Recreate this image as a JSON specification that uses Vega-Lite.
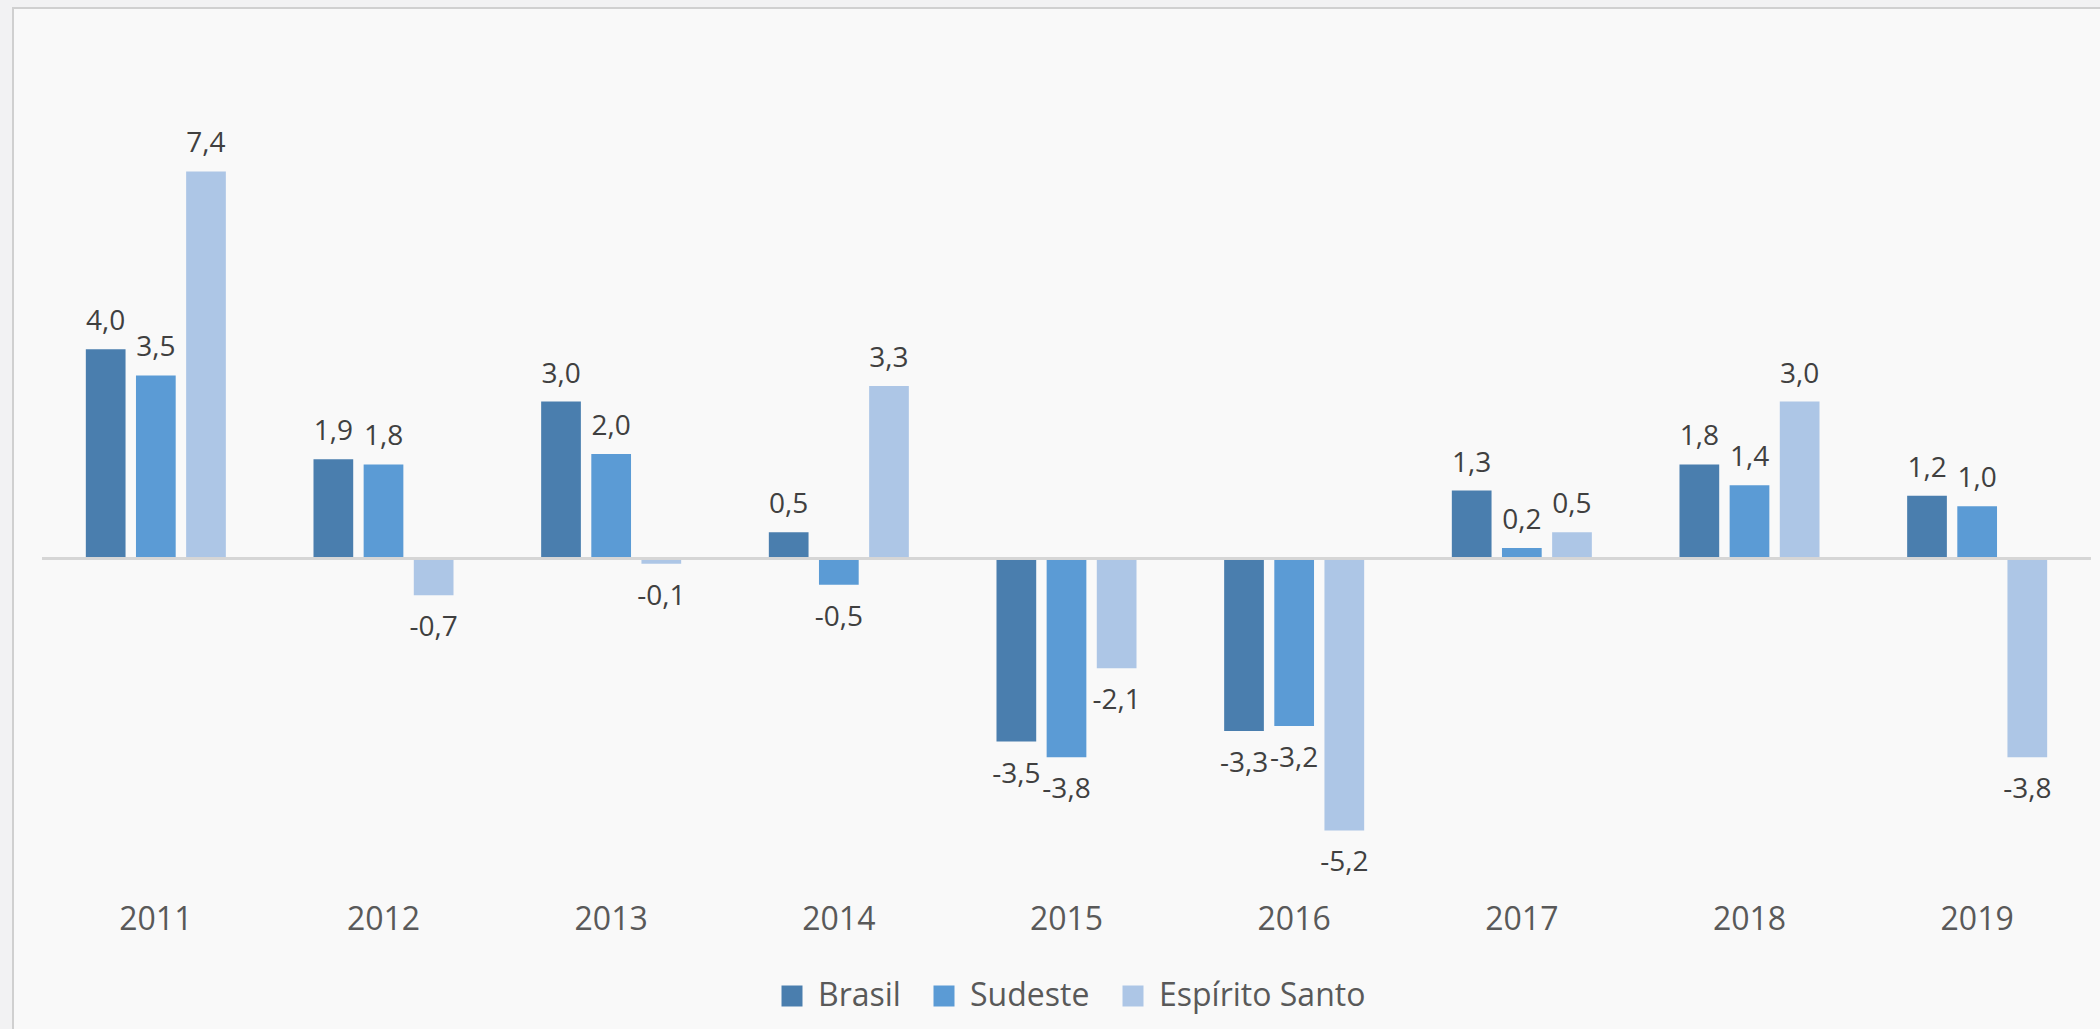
{
  "$schema": "https://vega.github.io/schema/vega-lite/v6.json",
  "autosize": "none",
  "width": 2100,
  "height": 1040,
  "padding": {"left": 13, "top": 8, "right": 0, "bottom": 0},
  "background": "#f2f2f3",
  "config": {
    "view": {"fill": "#f9f9f9", "stroke": "#d0d0d0", "strokeWidth": 2},
    "font": "Open Sans",
    "locale": {"number": {"decimal": ",", "thousands": ".", "grouping": [3], "currency": ["R$", ""], "minus": "-"}}
  },
  "data": {
    "values": [
      {"ano": "2011", "serie": "Brasil", "valor": 4.0},
      {"ano": "2011", "serie": "Sudeste", "valor": 3.5},
      {"ano": "2011", "serie": "Espírito Santo", "valor": 7.4},
      {"ano": "2012", "serie": "Brasil", "valor": 1.9},
      {"ano": "2012", "serie": "Sudeste", "valor": 1.8},
      {"ano": "2012", "serie": "Espírito Santo", "valor": -0.7},
      {"ano": "2013", "serie": "Brasil", "valor": 3.0},
      {"ano": "2013", "serie": "Sudeste", "valor": 2.0},
      {"ano": "2013", "serie": "Espírito Santo", "valor": -0.1},
      {"ano": "2014", "serie": "Brasil", "valor": 0.5},
      {"ano": "2014", "serie": "Sudeste", "valor": -0.5},
      {"ano": "2014", "serie": "Espírito Santo", "valor": 3.3},
      {"ano": "2015", "serie": "Brasil", "valor": -3.5},
      {"ano": "2015", "serie": "Sudeste", "valor": -3.8},
      {"ano": "2015", "serie": "Espírito Santo", "valor": -2.1},
      {"ano": "2016", "serie": "Brasil", "valor": -3.3},
      {"ano": "2016", "serie": "Sudeste", "valor": -3.2},
      {"ano": "2016", "serie": "Espírito Santo", "valor": -5.2},
      {"ano": "2017", "serie": "Brasil", "valor": 1.3},
      {"ano": "2017", "serie": "Sudeste", "valor": 0.2},
      {"ano": "2017", "serie": "Espírito Santo", "valor": 0.5},
      {"ano": "2018", "serie": "Brasil", "valor": 1.8},
      {"ano": "2018", "serie": "Sudeste", "valor": 1.4},
      {"ano": "2018", "serie": "Espírito Santo", "valor": 3.0},
      {"ano": "2019", "serie": "Brasil", "valor": 1.2},
      {"ano": "2019", "serie": "Sudeste", "valor": 1.0},
      {"ano": "2019", "serie": "Espírito Santo", "valor": -3.8}
    ]
  },
  "layer": [
    {
      "mark": {"type": "bar"},
      "encoding": {
        "x": {
          "field": "ano", "type": "nominal", "sort": null,
          "scale": {"range": [29, 2078], "paddingInner": 0.385, "paddingOuter": 0.1925},
          "axis": {
            "orient": "bottom", "offset": -129, "title": null, "domain": false, "ticks": false, "tickSize": 0,
            "grid": false, "labelAngle": 0, "labelBaseline": "middle", "labelPadding": 0,
            "labelFontSize": 32, "labelColor": "#595959", "labelFont": "Open Sans"
          }
        },
        "xOffset": {
          "field": "serie", "type": "nominal", "sort": ["Brasil", "Sudeste", "Espírito Santo"],
          "scale": {"paddingInner": 0.208, "paddingOuter": 0}
        },
        "y": {
          "field": "valor", "type": "quantitative",
          "scale": {"domain": [-9.359, 10.526], "nice": false, "zero": false},
          "axis": null
        },
        "color": {
          "field": "serie", "type": "nominal", "sort": ["Brasil", "Sudeste", "Espírito Santo"],
          "scale": {"domain": ["Brasil", "Sudeste", "Espírito Santo"], "range": ["#4a7eae", "#5b9bd5", "#adc6e6"]},
          "legend": {
            "orient": "none", "legendX": 763, "legendY": 972, "direction": "horizontal", "title": null,
            "symbolType": "square", "symbolSize": 441, "symbolStrokeWidth": 0, "symbolOpacity": 1,
            "labelFontSize": 32, "labelColor": "#595959", "labelFont": "Open Sans", "labelLimit": 500,
            "labelOffset": 10, "columnPadding": 27, "padding": 0
          }
        }
      }
    },
    {
      "mark": {"type": "rule", "color": "#d6d6d6", "strokeWidth": 2},
      "encoding": {
        "y": {"datum": 0, "type": "quantitative"},
        "x": {"datum": "2011", "type": "nominal", "bandPosition": -0.313},
        "x2": {"datum": "2019", "bandPosition": 1.313}
      }
    },
    {
      "transform": [{"filter": "datum.valor >= 0"}],
      "mark": {"type": "text", "dy": -19, "baseline": "alphabetic", "fontSize": 28, "color": "#404040", "font": "Open Sans"},
      "encoding": {
        "x": {"field": "ano", "type": "nominal", "sort": null},
        "xOffset": {"field": "serie", "type": "nominal", "sort": ["Brasil", "Sudeste", "Espírito Santo"]},
        "y": {"field": "valor", "type": "quantitative"},
        "text": {"field": "valor", "type": "quantitative", "format": ".1f"}
      }
    },
    {
      "transform": [{"filter": "datum.valor < 0"}],
      "mark": {"type": "text", "dy": 41, "baseline": "alphabetic", "fontSize": 28, "color": "#404040", "font": "Open Sans"},
      "encoding": {
        "x": {"field": "ano", "type": "nominal", "sort": null},
        "xOffset": {"field": "serie", "type": "nominal", "sort": ["Brasil", "Sudeste", "Espírito Santo"]},
        "y": {"field": "valor", "type": "quantitative"},
        "text": {"field": "valor", "type": "quantitative", "format": ".1f"}
      }
    }
  ]
}
